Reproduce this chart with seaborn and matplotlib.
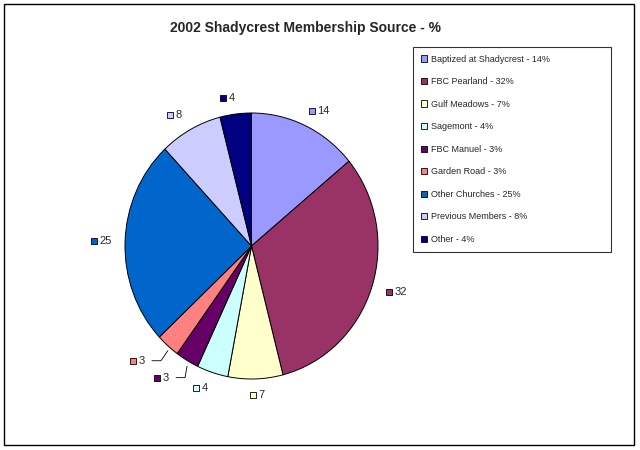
import matplotlib
matplotlib.use("Agg")
import matplotlib.pyplot as plt
import matplotlib.patches as mpatches
import numpy as np
import seaborn as sns

# chart data
sources = ['Baptized at Shadycrest', 'FBC Pearland', 'Gulf Meadows', 'Sagemont',
           'FBC Manuel', 'Garden Road', 'Other Churches', 'Previous Members', 'Other']
percent = [14, 32, 7, 4, 3, 3, 25, 8, 4]
colors = ['#9999FF', '#993366', '#FFFFCC', '#CCFFFF', '#660066',
          '#FF8080', '#0066CC', '#CCCCFF', '#000080']

sns.set_style('white')
plt.rcParams['font.family'] = ['Liberation Sans', 'DejaVu Sans']

fig = plt.figure(figsize=(6.4, 4.5), dpi=100)
fig.patch.set_facecolor('white')

# outer border of the chart area
fig.patches.append(mpatches.Rectangle((4 / 640, 5 / 450), 630 / 640, 441 / 450,
                                      transform=fig.transFigure, fill=False,
                                      edgecolor='black', linewidth=1.0))

fig.text(0.478, 0.938, '2002 Shadycrest Membership Source - %',
         ha='center', va='center', fontsize=10, fontweight='bold')

# pie area (Excel draws it slightly taller than wide)
ax = fig.add_axes([125 / 640, 71 / 450, 253 / 640, 266 / 450])
palette = sns.color_palette(colors)
wedges, _ = ax.pie(percent, colors=palette, startangle=90, counterclock=False,
                   wedgeprops=dict(edgecolor='black', linewidth=0.7))
ax.set_xlim(-1, 1)
ax.set_ylim(-1, 1)
ax.set_aspect('auto')
ax.axis('off')

# size of one pixel in data units
px_x = 2 / 253
px_y = 2 / 266

# data labels: small colour square + value
for i, (w, v) in enumerate(zip(wedges, percent)):
    mid = np.deg2rad((w.theta1 + w.theta2) / 2)
    c, s = np.cos(mid), np.sin(mid)
    if v == 3:
        # small slices: label pushed out with a leader line
        bx = 1.25 * c - 14 * px_x
        by = 1.15 * s
        ex, ey = 1.0 * c, 1.05 * s
        ax.plot([bx + 19 * px_x, bx + 28 * px_x, ex], [by, by, ey],
                color='black', linewidth=0.6, clip_on=False)
    else:
        shift = -3 if c > -0.1 else -10
        bx = 1.17 * c + shift * px_x
        by = 1.12 * s
    ax.scatter([bx], [by], marker='s', s=22, color=colors[i], edgecolor='black',
               linewidth=0.6, clip_on=False, zorder=5)
    ax.annotate(str(v), (bx, by), xytext=(4, 0), textcoords='offset points',
                ha='left', va='center', fontsize=8, annotation_clip=False)

handles = [mpatches.Patch(facecolor=c, edgecolor='black', linewidth=0.6) for c in colors]
labels = [f'{s} - {p}%' for s, p in zip(sources, percent)]
leg = fig.legend(handles, labels, loc='upper left',
                 bbox_to_anchor=(413 / 640, 1 - 47 / 450, 198 / 640, 0.0),
                 mode='expand', borderaxespad=0, fontsize=6.5, labelspacing=1.5,
                 handlelength=0.7, handleheight=0.7, handletextpad=0.4,
                 borderpad=0.85, fancybox=False, frameon=True)
leg.get_frame().set_edgecolor('black')
leg.get_frame().set_linewidth(0.8)

fig.savefig('out.png', dpi=100)
